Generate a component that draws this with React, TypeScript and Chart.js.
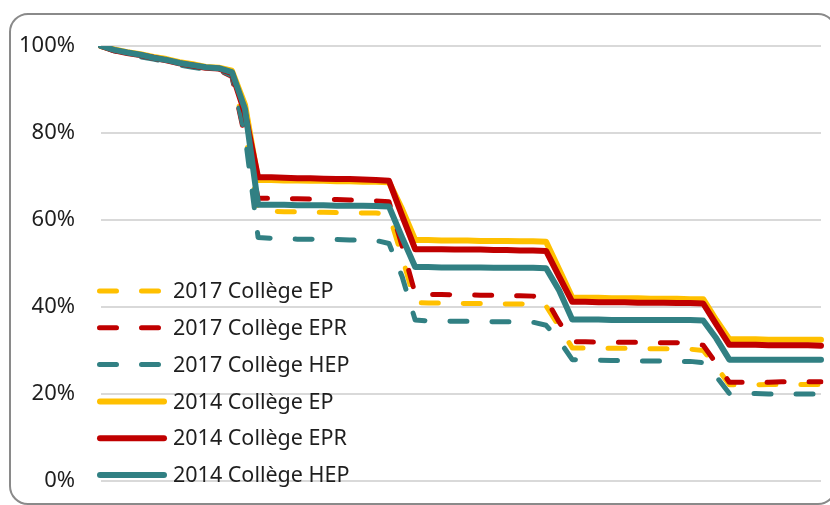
import React, { useEffect, useRef } from "react";
import { Chart, registerables } from "chart.js";

Chart.register(...registerables);

// 2017 cohorts (dashed)
const ep2017 = [
  100, 99.1, 98.5, 98.0, 97.4, 96.8, 96.1, 95.6, 95.0, 94.8, 93.8, 80.0, 62.0,
  62.0, 61.9, 61.9, 61.8, 61.8, 61.7, 61.7, 61.6, 61.6, 61.3,
  51.5, 41.0,
  40.9, 40.9, 40.9, 40.8, 40.8, 40.8, 40.7, 40.7, 40.6, 40.2,
  35.5, 30.6,
  30.6, 30.5, 30.5, 30.5, 30.4, 30.4, 30.4, 30.3, 30.3, 30.0,
  26.3, 22.1,
  22.1, 22.1, 22.2, 22.2, 22.2, 22.2, 22.2,
];
const epr2017 = [
  100, 99.0, 98.3, 97.8, 97.2, 96.6, 95.8, 95.3, 94.8, 94.5, 93.0, 79.0, 65.0,
  65.0, 64.9, 64.9, 64.8, 64.7, 64.7, 64.6, 64.5, 64.4, 64.2,
  54.0, 43.0,
  42.9, 42.9, 42.8, 42.8, 42.7, 42.7, 42.6, 42.6, 42.5, 41.8,
  36.5, 32.0,
  32.0, 31.9, 31.9, 31.9, 31.9, 31.8, 31.8, 31.8, 31.7, 31.2,
  27.0, 22.7,
  22.7, 22.7, 22.7, 22.8, 22.8, 22.8, 22.8,
];
const hep2017 = [
  100, 98.9, 98.2, 97.5, 97.0, 96.4, 95.6, 95.1, 94.7, 94.5, 93.2, 79.5, 56.0,
  55.8, 55.7, 55.6, 55.6, 55.5, 55.5, 55.4, 55.4, 55.3, 54.6,
  47.0, 37.0,
  36.8, 36.8, 36.7, 36.7, 36.7, 36.6, 36.6, 36.6, 36.5, 35.8,
  32.3, 27.9,
  27.8, 27.8, 27.7, 27.7, 27.6, 27.6, 27.6, 27.5, 27.5, 27.2,
  24.0, 20.1,
  20.1, 20.1, 20.0, 20.0, 20.0, 20.0, 20.0,
];
// 2014 cohorts (solid)
const ep2014 = [
  100, 99.2, 98.6, 98.1, 97.5, 97.0, 96.3, 95.8, 95.2, 95.0, 94.3, 86.5, 69.2,
  69.2, 69.1, 69.1, 69.0, 69.0, 68.9, 68.9, 68.8, 68.8, 68.7,
  62.5, 55.4,
  55.4, 55.3, 55.3, 55.3, 55.2, 55.2, 55.2, 55.1, 55.1, 55.0,
  48.6, 42.2,
  42.1, 42.1, 42.0, 42.0, 42.0, 41.9, 41.9, 41.9, 41.8, 41.8,
  37.0, 32.6,
  32.6, 32.6, 32.5, 32.5, 32.5, 32.5, 32.5,
];
const epr2014 = [
  100, 99.0, 98.4, 97.9, 97.3, 96.7, 96.0, 95.5, 95.0, 94.8, 93.8, 84.5, 69.8,
  69.8, 69.7, 69.6, 69.6, 69.5, 69.4, 69.4, 69.3, 69.2, 69.0,
  61.0, 53.3,
  53.3, 53.3, 53.2, 53.2, 53.2, 53.1, 53.1, 53.0, 53.0, 52.9,
  47.0, 41.2,
  41.2, 41.1, 41.1, 41.1, 41.0, 41.0, 41.0, 40.9, 40.9, 40.8,
  36.0, 31.3,
  31.3, 31.3, 31.2, 31.2, 31.2, 31.2, 31.1,
];
const hep2014 = [
  100, 99.1, 98.5, 98.0, 97.3, 96.8, 96.1, 95.6, 95.1, 94.9, 94.0, 85.5, 63.5,
  63.5, 63.5, 63.4, 63.4, 63.4, 63.3, 63.3, 63.3, 63.2, 63.1,
  56.0, 49.2,
  49.2, 49.1, 49.1, 49.1, 49.1, 49.0, 49.0, 49.0, 49.0, 48.9,
  43.8, 37.1,
  37.1, 37.1, 37.0, 37.0, 37.0, 37.0, 37.0, 37.0, 37.0, 36.9,
  32.8, 27.9,
  27.9, 27.9, 27.9, 27.9, 27.9, 27.9, 27.9,
];

const months = ep2014.map((_, i) => String(i + 1));
const yTicks = [0, 20, 40, 60, 80, 100];
const seriesNames = [
  "2017 Collège EP",
  "2017 Collège EPR",
  "2017 Collège HEP",
  "2014 Collège EP",
  "2014 Collège EPR",
  "2014 Collège HEP",
];

const YELLOW = "#FFC000";
const RED = "#C00000";
const TEAL = "#318083";
const FONT = "'Noto Sans', 'Open Sans', sans-serif";

const borderPlugin = {
  id: "frameBorder",
  beforeDraw(chart: any) {
    const ctx = chart.ctx;
    ctx.save();
    ctx.fillStyle = "#ffffff";
    ctx.fillRect(0, 0, chart.width, chart.height);
    ctx.strokeStyle = "#8a8a8a";
    ctx.lineWidth = 2;
    ctx.beginPath();
    ctx.roundRect(10, 14, 826, 490, 18);
    ctx.stroke();
    ctx.restore();
  },
};

const legendPlugin = {
  id: "insideLegend",
  afterDraw(chart: any) {
    const ctx = chart.ctx;
    const ds = chart.data.datasets;
    const x0 = 97;
    const x1 = 167;
    const top = 291;
    const step = 36.8;
    ctx.save();
    ds.forEach((d: any, i: number) => {
      const y = top + i * step;
      const w = d.borderWidth;
      ctx.strokeStyle = d.borderColor;
      ctx.lineWidth = w;
      ctx.lineCap = "round";
      ctx.setLineDash(d.borderDash || []);
      ctx.beginPath();
      ctx.moveTo(x0 + w / 2, y);
      ctx.lineTo(x1 - w / 2, y);
      ctx.stroke();
      ctx.setLineDash([]);
      ctx.fillStyle = "#1e1e1e";
      ctx.font = `21.5px ${FONT}`;
      ctx.textBaseline = "middle";
      ctx.textAlign = "left";
      ctx.fillText(d.label, 173, y + 1);
    });
    ctx.restore();
  },
};

export default function App() {
  const ref = useRef<HTMLCanvasElement | null>(null);

  useEffect(() => {
    if (!ref.current) return;
    const dashed = [17, 25];
    const mk = (i: number, data: number[], color: string, isDashed: boolean, order: number) => ({
      label: seriesNames[i],
      data,
      borderColor: color,
      backgroundColor: color,
      borderWidth: isDashed ? 5 : 6,
      borderDash: isDashed ? dashed : undefined,
      borderCapStyle: "round",
      borderJoinStyle: "round",
      pointRadius: 0,
      tension: 0,
      fill: false,
      order,
    });
    const chart = new Chart(ref.current, {
      type: "line",
      data: {
        labels: months,
        datasets: [
          mk(0, ep2017, YELLOW, true, 6),
          mk(1, epr2017, RED, true, 5),
          mk(2, hep2017, TEAL, true, 4),
          mk(3, ep2014, YELLOW, false, 3),
          mk(4, epr2014, RED, false, 2),
          mk(5, hep2014, TEAL, false, 1),
        ] as any,
      },
      options: {
        responsive: false,
        animation: false,
        layout: { padding: { left: 0, top: 46, right: 9, bottom: 24 } },
        plugins: {
          legend: { display: false },
          tooltip: { enabled: false },
        },
        scales: {
          x: { display: false, offset: false },
          y: {
            min: 0,
            max: 100,
            afterFit: (s: any) => {
              s.width = 101;
              s.paddingTop = 0;
              s.paddingBottom = 0;
            },
            afterBuildTicks: (s: any) => {
              s.ticks = yTicks.map((v) => ({ value: v }));
            },
            border: { display: false },
            grid: { color: "#d9d9d9", lineWidth: 2, drawTicks: false },
            ticks: {
              padding: 26,
              color: "#1e1e1e",
              font: { family: FONT, size: 22 },
              callback: (v: any) => `${v}%`,
            },
          },
        },
      },
      plugins: [borderPlugin, legendPlugin],
    });
    return () => chart.destroy();
  }, []);

  return (
    <div style={{ position: "absolute", left: 0, top: 0, width: 830, height: 505, overflow: "hidden" }}>
      <canvas ref={ref} width={830} height={505} style={{ display: "block" }} />
    </div>
  );
}
